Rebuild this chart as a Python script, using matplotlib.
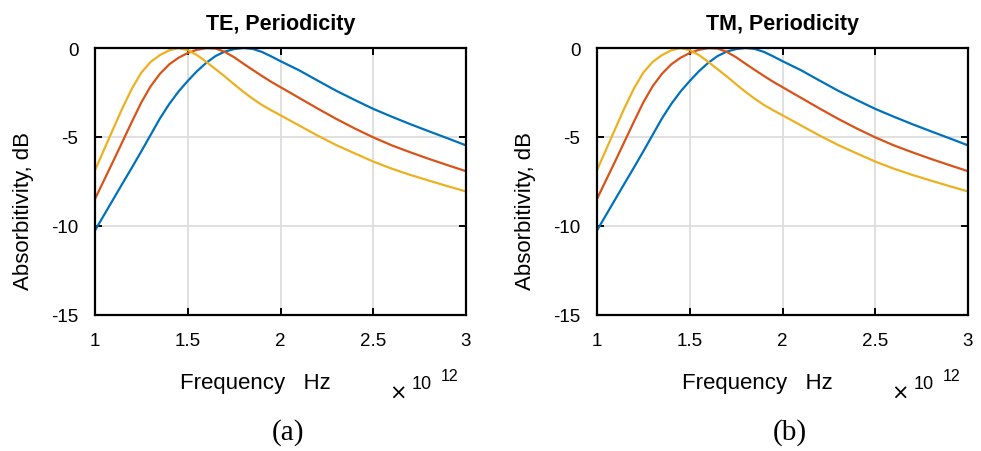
import numpy as np
import matplotlib.pyplot as plt

plt.rcParams["font.family"] = ["Liberation Sans", "DejaVu Sans"]

# frequency in units of 1e12 Hz
freq = [1.0, 1.05, 1.1, 1.15, 1.2, 1.25, 1.3, 1.35, 1.4, 1.45, 1.5, 1.55, 1.6, 1.65,
        1.7, 1.75, 1.8, 1.85, 1.9, 1.95, 2.0, 2.1, 2.2, 2.3, 2.4, 2.5, 2.6, 2.7,
        2.8, 2.9, 3.0]

# absorptivity in dB
blue = [-10.25, -9.36, -8.47, -7.58, -6.7, -5.8, -4.88, -3.96, -3.15, -2.45, -1.85, -1.3,
        -0.83, -0.45, -0.2, -0.06, 0.0, -0.05, -0.22, -0.47, -0.74, -1.25, -1.83, -2.4,
        -2.92, -3.42, -3.86, -4.28, -4.68, -5.07, -5.47]
red = [-8.48, -7.4, -6.32, -5.22, -4.12, -3.05, -2.15, -1.45, -0.92, -0.55, -0.28, -0.1,
       -0.01, -0.03, -0.22, -0.52, -0.88, -1.23, -1.57, -1.9, -2.2, -2.8, -3.4, -3.98,
       -4.52, -5.02, -5.47, -5.86, -6.23, -6.58, -6.92]
yellow = [-6.86, -5.68, -4.5, -3.33, -2.26, -1.38, -0.78, -0.4, -0.13, -0.01, -0.12, -0.4,
          -0.78, -1.19, -1.6, -2.04, -2.46, -2.85, -3.2, -3.5, -3.78, -4.35, -4.92,
          -5.45, -5.92, -6.38, -6.78, -7.13, -7.45, -7.76, -8.06]

series = [(blue, "#0072BD"), (red, "#D95319"), (yellow, "#EDB120")]
titles = ["TE, Periodicity", "TM, Periodicity"]
captions = ["(a)", "(b)"]

fig = plt.figure(figsize=(9.81, 4.52), dpi=100)

lefts = [95 / 981, 597 / 981]
w = 371 / 981
b = 1 - 316 / 452
h = 267 / 452

for i, left in enumerate(lefts):
    ax = fig.add_axes([left, b, w, h])
    for vals, col in series:
        ax.plot(freq, vals, color=col, lw=1.6, solid_joinstyle="round")
    ax.set_xlim(1, 3)
    ax.set_ylim(-15, 0)
    ax.set_xticks([1, 1.5, 2, 2.5, 3])
    ax.set_xticklabels(["1", "1.5", "2", "2.5", "3"])
    ax.set_yticks([-15, -10, -5, 0])
    ax.set_yticklabels(["-15", "-10", "-5", "0"])
    ax.grid(True, color="#dddddd", lw=1.3)
    ax.set_axisbelow(True)
    ax.tick_params(direction="in", top=True, right=True, length=5, width=1.4,
                   labelsize=13.5, pad=12)
    for sp in ax.spines.values():
        sp.set_linewidth(1.6)
    ax.set_title(titles[i], fontsize=15.5, fontweight="bold", pad=14)
    ax.set_xlabel("Frequency   Hz", fontsize=16)
    ax.xaxis.set_label_coords((255 - 95) / 371, -0.215)
    ax.set_ylabel("Absorbitivity, dB", fontsize=16)
    ax.yaxis.set_label_coords(-0.164, 0.393)
    ax.text(0.817, -0.292, "\u00d7", transform=ax.transAxes, fontsize=15,
            family="DejaVu Sans", ha="center", va="center")
    ax.text(0.881, -0.258, "10", transform=ax.transAxes, fontsize=13,
            ha="center", va="center")
    ax.text(0.957, -0.225, "12", transform=ax.transAxes, fontsize=11.5,
            ha="center", va="center")
    fig.text(left + (288 - 95) / 981, 1 - 433 / 452, captions[i],
             fontsize=21, family="Liberation Serif", ha="center", va="center")

fig.savefig("out.png", dpi=100)
